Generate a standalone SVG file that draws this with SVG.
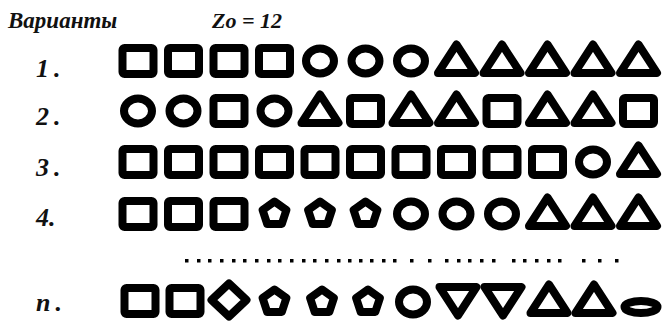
<svg xmlns="http://www.w3.org/2000/svg" width="665" height="322" viewBox="0 0 665 322">
<style>
.t{font-family:"Liberation Serif","Times New Roman","DejaVu Serif",serif;font-weight:bold;font-style:italic;fill:#111}
.s{fill:none;stroke:#000;stroke-width:8;stroke-linejoin:round}
</style>
<defs>
<rect id="sq" class="s" x="-15.5" y="-13" width="31" height="26" rx="2"/>
<ellipse id="ci" class="s" rx="14" ry="12.5"/>
<polygon id="tr" class="s" points="0,-14.5 18.5,14 -18.5,14"/>
<polygon id="it" class="s" points="0,14.5 18.5,-14 -18.5,-14"/>
<polygon id="pe" class="s" points="0,-12.5 11.9,-3.9 7.3,10.1 -7.3,10.1 -11.9,-3.9"/>
<polygon id="di" class="s" points="0,-16.5 17.5,0 0,16.5 -17.5,0"/>
<ellipse id="el" class="s" rx="16.5" ry="6"/>
</defs>
<rect width="665" height="322" fill="#fff"/>
<g id="header">
<text class="t" x="8" y="28" font-size="23">Варианты</text>
<text class="t" x="212" y="28" font-size="22">Zo = 12</text>
</g>
<g id="row1">
<text class="t" x="36" y="77" font-size="26" letter-spacing="5">1.</text>
<use href="#sq" x="138" y="61"/><use href="#sq" x="183.5" y="61"/><use href="#sq" x="229" y="61"/><use href="#sq" x="274.5" y="61"/>
<use href="#ci" x="320" y="61"/><use href="#ci" x="365.5" y="61"/><use href="#ci" x="411" y="61"/>
<use href="#tr" x="456.5" y="59"/><use href="#tr" x="502" y="59"/><use href="#tr" x="547.5" y="59"/><use href="#tr" x="593" y="59"/><use href="#tr" x="638.5" y="59"/>
</g>
<g id="row2">
<text class="t" x="36" y="125" font-size="26" letter-spacing="5">2.</text>
<use href="#ci" x="138" y="111"/><use href="#ci" x="183.5" y="111"/><use href="#sq" x="229" y="111"/><use href="#ci" x="274.5" y="111"/>
<use href="#tr" x="320" y="109"/><use href="#sq" x="365.5" y="111"/><use href="#tr" x="411" y="109"/><use href="#tr" x="456.5" y="109"/>
<use href="#sq" x="502" y="111"/><use href="#tr" x="547.5" y="109"/><use href="#tr" x="593" y="109"/><use href="#sq" x="638.5" y="111"/>
</g>
<g id="row3">
<text class="t" x="36" y="176" font-size="26" letter-spacing="5">3.</text>
<use href="#sq" x="138" y="162"/><use href="#sq" x="183.5" y="162"/><use href="#sq" x="229" y="162"/><use href="#sq" x="274.5" y="162"/>
<use href="#sq" x="320" y="162"/><use href="#sq" x="365.5" y="162"/><use href="#sq" x="411" y="162"/><use href="#sq" x="456.5" y="162"/>
<use href="#sq" x="502" y="162"/><use href="#sq" x="547.5" y="162"/><use href="#ci" x="593" y="162"/><use href="#tr" x="638.5" y="160"/>
</g>
<g id="row4">
<text class="t" x="36" y="226" font-size="26">4.</text>
<use href="#sq" x="138" y="214"/><use href="#sq" x="183.5" y="214"/><use href="#sq" x="229" y="214"/>
<use href="#pe" x="274.5" y="214"/><use href="#pe" x="320" y="214"/><use href="#pe" x="365.5" y="214"/>
<use href="#ci" x="411" y="214"/><use href="#ci" x="456.5" y="214"/><use href="#ci" x="502" y="214"/>
<use href="#tr" x="547.5" y="212"/><use href="#tr" x="593" y="212"/><use href="#tr" x="638.5" y="212"/>
</g>
<g id="dots">
<path fill="#000" d="M185 259h3.5v3.5h-3.5zM197 259h3.5v3.5h-3.5zM208 259h3.5v3.5h-3.5zM220 259h3.5v3.5h-3.5zM232 259h3.5v3.5h-3.5zM243 259h3.5v3.5h-3.5zM255 259h3.5v3.5h-3.5zM267 259h3.5v3.5h-3.5zM278 259h3.5v3.5h-3.5zM290 259h3.5v3.5h-3.5zM302 259h3.5v3.5h-3.5zM313 259h3.5v3.5h-3.5zM325 259h3.5v3.5h-3.5zM337 259h3.5v3.5h-3.5zM348 259h3.5v3.5h-3.5zM359 259h3.5v3.5h-3.5zM370 259h3.5v3.5h-3.5zM382 259h3.5v3.5h-3.5zM393 259h3.5v3.5h-3.5zM410 259h3.5v3.5h-3.5zM428 259h3.5v3.5h-3.5zM445 259h3.5v3.5h-3.5zM457 259h3.5v3.5h-3.5zM468 259h3.5v3.5h-3.5zM480 259h3.5v3.5h-3.5zM492 259h3.5v3.5h-3.5zM512 259h3.5v3.5h-3.5zM523 259h3.5v3.5h-3.5zM535 259h3.5v3.5h-3.5zM547 259h3.5v3.5h-3.5zM558 259h3.5v3.5h-3.5zM582 259h3.5v3.5h-3.5zM598 259h3.5v3.5h-3.5zM615 259h3.5v3.5h-3.5z"/>
</g>
<g id="rown">
<text class="t" x="36" y="311" font-size="26" letter-spacing="5">n.</text>
<use href="#sq" x="140" y="301"/><use href="#sq" x="185" y="301"/><use href="#di" x="229" y="300"/>
<use href="#pe" x="274.5" y="302"/><use href="#pe" x="322" y="302"/><use href="#pe" x="368" y="302"/>
<use href="#ci" x="413" y="302"/><use href="#it" x="458" y="301"/><use href="#it" x="503" y="301"/>
<use href="#tr" x="549" y="299"/><use href="#tr" x="594" y="299"/><use href="#el" x="641" y="307"/>
</g>
</svg>
